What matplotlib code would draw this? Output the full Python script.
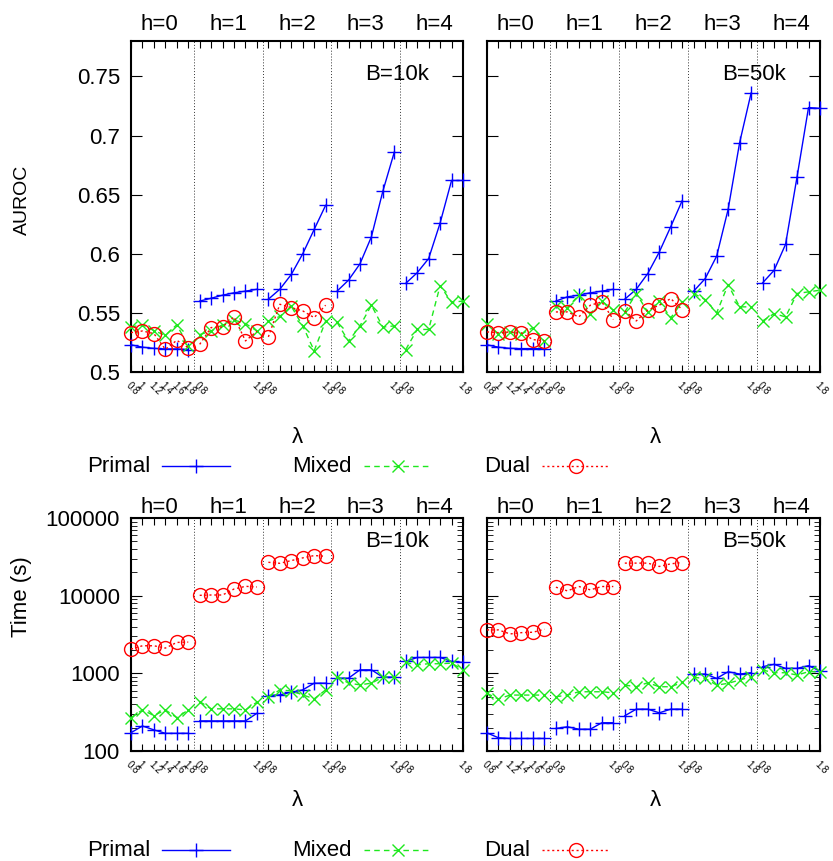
import numpy as np
import matplotlib.pyplot as plt
from matplotlib.lines import Line2D
from matplotlib.ticker import LogLocator, NullFormatter
import matplotlib.transforms as mtransforms

plt.rcParams['font.family'] = ['Liberation Sans', 'DejaVu Sans']

# lambda values swept inside every h block
lambdas = ["0.8", "1", "1.2", "1.4", "1.6", "1.8"]
heights = ["h=0", "h=1", "h=2", "h=3", "h=4"]

# AUROC, budget 10k (dual only run for h<=2)
auroc10_primal = [0.523, 0.521, 0.520, 0.5195, 0.5195, 0.519,
                  0.560, 0.5624, 0.565, 0.567, 0.5684, 0.570,
                  0.5616, 0.570, 0.5825, 0.600, 0.6206, 0.641,
                  0.5684, 0.5777, 0.5915, 0.6144, 0.653, 0.686,
                  0.575, 0.584, 0.596, 0.626, 0.662, 0.662]
auroc10_mixed = [0.538, 0.540, 0.535, 0.531, 0.540, 0.522,
                 0.5316, 0.5347, 0.540, 0.544, 0.541, 0.5347,
                 0.543, 0.547, 0.5556, 0.539, 0.518, 0.543,
                 0.542, 0.526, 0.539, 0.5565, 0.538, 0.539,
                 0.519, 0.536, 0.536, 0.573, 0.559, 0.560]
auroc10_dual = [0.5333, 0.5347, 0.5325, 0.5192, 0.5268, 0.5206,
                0.5234, 0.5376, 0.5381, 0.5466, 0.5263, 0.5345,
                0.5297, 0.5573, 0.5545, 0.5517, 0.546, 0.5565]

# AUROC, budget 50k
auroc50_primal = [0.523, 0.521, 0.520, 0.5198, 0.5198, 0.5198,
                  0.560, 0.5636, 0.565, 0.567, 0.5684, 0.570,
                  0.5616, 0.570, 0.5833, 0.6014, 0.6229, 0.645,
                  0.5684, 0.579, 0.598, 0.6376, 0.694, 0.736,
                  0.5754, 0.586, 0.608, 0.665, 0.7237, 0.723]
auroc50_mixed = [0.541, 0.532, 0.534, 0.532, 0.5376, 0.526,
                 0.5556, 0.5545, 0.565, 0.5494, 0.560, 0.5523,
                 0.5508, 0.5664, 0.5508, 0.560, 0.5458, 0.5593,
                 0.5664, 0.5613, 0.550, 0.574, 0.5551, 0.5551,
                 0.5432, 0.5494, 0.5466, 0.5664, 0.5678, 0.5692]
auroc50_dual = [0.5339, 0.5333, 0.5339, 0.5331, 0.5274, 0.5263,
                0.5508, 0.5508, 0.5466, 0.5565, 0.5593, 0.5444,
                0.5517, 0.5432, 0.5523, 0.5565, 0.5621, 0.5528]

# training time in seconds
time10_primal = [172, 210, 187, 169, 169, 169,
                 244, 244, 244, 244, 244, 306,
                 518, 528, 572, 612, 747, 747,
                 866, 866, 1109, 1109, 893, 893,
                 1423, 1600, 1600, 1600, 1423, 1381]
time10_mixed = [269, 338, 286, 338, 269, 338,
                433, 349, 349, 349, 338, 425,
                492, 612, 594, 528, 469, 612,
                910, 747, 711, 747, 893, 893,
                1381, 1288, 1329, 1329, 1353, 1109]
time10_dual = [2051, 2265, 2265, 2113, 2500, 2525,
               10100, 10200, 10200, 12190, 13190, 12940,
               26900, 26100, 28300, 30650, 32830, 32180]
time50_primal = [171, 148, 145, 145, 145, 145,
                 195, 205, 191, 191, 231, 231,
                 284, 346, 346, 310, 346, 346,
                 971, 980, 861, 1049, 980, 1018,
                 1217, 1306, 1159, 1159, 1254, 1071]
time50_mixed = [552, 466, 525, 525, 525, 525,
                499, 525, 579, 579, 579, 562,
                706, 672, 757, 672, 672, 764,
                887, 861, 706, 743, 820, 905,
                1103, 1018, 1018, 951, 1049, 1049]
time50_dual = [3622, 3622, 3214, 3341, 3382, 3698,
               12860, 11530, 13120, 11880, 13120, 13120,
               26250, 26250, 26250, 23760, 25700, 26730]

BLUE, GREEN, RED = '#0000ff', '#1ee81e', '#ff0000'
styles = {
    'Primal': dict(color=BLUE, ls='-', lw=1.0, marker='+', ms=10, mew=1.0),
    'Mixed': dict(color=GREEN, ls=(0, (4, 3)), lw=1.0, marker='x', ms=9, mew=1.0),
    'Dual': dict(color=RED, ls=(0, (1.5, 2)), lw=1.0, marker='o', ms=10, mew=1.0, mfc='none'),
}

n = len(lambdas)
fig = plt.figure(figsize=(8.33, 8.61), dpi=100)
W, H = 833, 861


def add_axes(x0, y0, x1, y1):
    return fig.add_axes([x0 / W, 1 - y1 / H, (x1 - x0) / W, (y1 - y0) / H])


def draw(ax, primal, mixed, dual, tag, log, ylabels, hpad):
    x = np.arange(len(heights) * n)
    for name, vals in (('Primal', primal), ('Mixed', mixed), ('Dual', dual)):
        vals = np.asarray(vals, float)
        for g in range(len(vals) // n):
            sl = slice(g * n, (g + 1) * n)
            ax.plot(x[sl], vals[sl], clip_on=False, zorder=3, **styles[name])
    for g in range(1, len(heights)):
        ax.axvline(g * n - 0.5, color='#333333', ls=(0, (1, 2)), lw=0.7, zorder=1)
    ax.set_xlim(0, len(x) - 1)

    # lambda labels: whole first block, then only the block edges
    labs = []
    for i in x:
        keep = i <= n or i % n in (0, n - 1)
        labs.append(lambdas[i % n] if keep else '')
    ax.set_xticks(x, labels=labs)
    for t in ax.get_xticklabels():
        t.set(rotation=-45, fontsize=7, ha='left', va='top', rotation_mode='anchor')
    ax.tick_params(axis='x', direction='in', length=5, top=True, bottom=True, pad=6)

    if log:
        ax.set_yscale('log')
        ax.set_ylim(100, 100000)
        ax.set_yticks([100, 1000, 10000, 100000])
        ax.yaxis.set_minor_locator(LogLocator(base=10, subs=range(2, 10)))
        ax.yaxis.set_minor_formatter(NullFormatter())
        ax.set_yticklabels(['100', '1000', '10000', '100000'] if ylabels else [])
    else:
        ax.set_ylim(0.5, 0.78)
        ticks = [0.5, 0.55, 0.6, 0.65, 0.7, 0.75]
        ax.set_yticks(ticks)
        ax.set_yticklabels(['0.5', '0.55', '0.6', '0.65', '0.7', '0.75'] if ylabels else [])
    ax.tick_params(axis='y', which='major', direction='in', length=8, left=True,
                   right=True, labelsize=16, pad=8)
    ax.tick_params(axis='y', which='minor', direction='in', length=4, left=True, right=True)
    for s in ax.spines.values():
        s.set_linewidth(1.5)

    trans = mtransforms.blended_transform_factory(ax.transData, ax.transAxes)
    offset = mtransforms.ScaledTranslation(0, hpad / 100, fig.dpi_scale_trans)
    for g, h in enumerate(heights):
        ax.text(g * n + (n - 1) / 2, 1, h, transform=trans + offset, ha='center',
                va='bottom', fontsize=16)
    ax.text(0.897, 0.90, tag, transform=ax.transAxes, ha='right', va='center', fontsize=16)


ax1 = add_axes(131, 41, 463, 372)
ax2 = add_axes(487, 41, 820, 372)
ax3 = add_axes(131, 518, 463, 751)
ax4 = add_axes(487, 518, 820, 751)

draw(ax1, auroc10_primal, auroc10_mixed, auroc10_dual, 'B=10k', False, True, 6)
draw(ax2, auroc50_primal, auroc50_mixed, auroc50_dual, 'B=50k', False, False, 6)
draw(ax3, time10_primal, time10_mixed, time10_dual, 'B=10k', True, True, 0)
draw(ax4, time50_primal, time50_mixed, time50_dual, 'B=50k', True, False, 0)

fig.text(22 / W, 1 - 200 / H, 'AUROC', rotation=90, ha='center', va='center', fontsize=14)
fig.text(22 / W, 1 - 597 / H, 'Time (s)', rotation=90, ha='center', va='center', fontsize=16)
for xc in (297, 655):
    fig.text(xc / W, 1 - 437 / H, 'λ', ha='center', va='center', fontsize=16)
    fig.text(xc / W, 1 - 800 / H, 'λ', ha='center', va='center', fontsize=16)

# key rows under each pair of panels
for yc in (466, 850):
    yf = 1 - yc / H
    for name, xr in (('Primal', 150), ('Mixed', 352), ('Dual', 530)):
        fig.text(xr / W, yf, name, ha='right', va='center', fontsize=16)
        st = styles[name]
        fig.add_artist(Line2D([(xr + 12) / W, (xr + 80) / W], [yf, yf], color=st['color'],
                              ls=st['ls'], lw=st['lw'], transform=fig.transFigure))
        fig.add_artist(Line2D([(xr + 46) / W], [yf], color=st['color'], marker=st['marker'],
                              ms=st['ms'], mew=st['mew'], mfc=st.get('mfc', st['color']),
                              ls='none', transform=fig.transFigure))

fig.savefig('out.png', dpi=100)
